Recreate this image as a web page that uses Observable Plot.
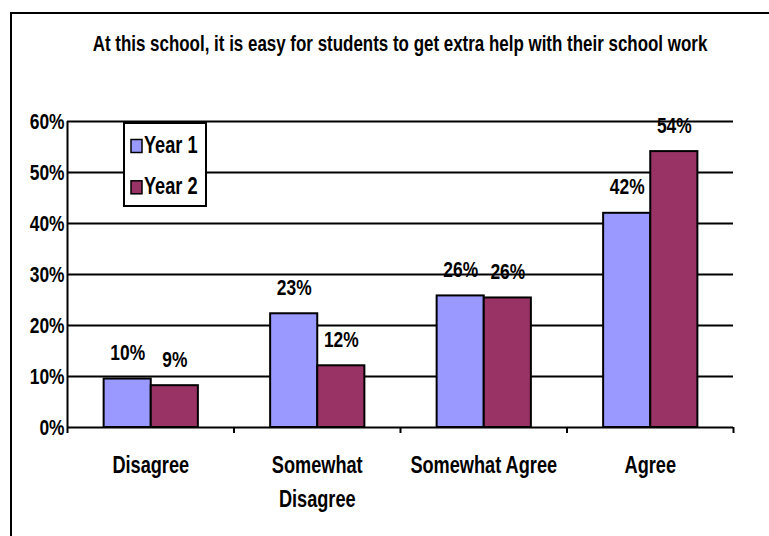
<!DOCTYPE html>
<html>
<head>
<meta charset="utf-8">
<script src="https://cdn.jsdelivr.net/npm/d3@7"></script>
<script src="https://cdn.jsdelivr.net/npm/@observablehq/plot@0.6"></script>
<style>
  body { margin: 0; background: #fff; }
  #wrap { position: relative; width: 769px; height: 536px; overflow: hidden; background: #fff;
          font-family: "Liberation Sans", Arial, sans-serif; font-weight: bold; color: #000; }
  #frame { position: absolute; left: 10px; top: 12px; right: -20px; bottom: -20px;
           border-left: 2px solid #000; border-top: 2px solid #000; }
  #title { position: absolute; left: 0; top: 33px; width: 800px; text-align: center;
           font-size: 22px; line-height: 22px; white-space: nowrap;
           transform: scaleX(0.77); transform-origin: 400px 0; }
  #chart { position: absolute; left: 0; top: 0; }
</style>
</head>
<body>
<div id="wrap">
  <div id="frame"></div>
  <div id="chart"></div>
  <div id="title">At this school, it is easy for students to get extra help with their school work</div>
</div>
<script>
const categories = ["Disagree", "Somewhat Disagree", "Somewhat Agree", "Agree"];
const categoryLabels = ["Disagree", "Somewhat\nDisagree", "Somewhat Agree", "Agree"];
const series = ["Year 1", "Year 2"];
const year1 = [9.5, 22.3, 25.8, 42.0];
const year2 = [8.2, 12.1, 25.4, 54.1];
const year1Labels = ["10%", "23%", "26%", "42%"];
const year2Labels = ["9%", "12%", "26%", "54%"];
const yTicks = [0, 10, 20, 30, 40, 50, 60];
const colors = ["#9999FF", "#993366"];

const FONT = '"Liberation Sans", Arial, sans-serif';
const SQUEEZE = 0.79;

const rows = [];
categories.forEach((c, i) => {
  rows.push({cat: c, idx: i, s: 0, series: series[0], value: year1[i], label: year1Labels[i]});
  rows.push({cat: c, idx: i, s: 1, series: series[1], value: year2[i], label: year2Labels[i]});
});
const start = 0.22, bw = 0.283;
const bx1 = d => d.idx + start + d.s * bw;
const bx2 = d => d.idx + start + (d.s + 1) * bw;
const bmid = d => d.idx + start + (d.s + 0.5) * bw;

const chart = Plot.plot({
  width: 769,
  height: 536,
  marginLeft: 67,
  marginRight: 36,
  marginTop: 121,
  marginBottom: 109,
  style: {fontFamily: FONT, fontWeight: "bold", background: "transparent", color: "#000", overflow: "visible"},
  x: {type: "linear", domain: [0, categories.length], axis: null, label: null},
  y: {domain: [0, 60], axis: null, label: null},
  color: {domain: series, range: colors},
  marks: [
    Plot.ruleY(yTicks.filter(t => t > 0), {stroke: "#000", strokeWidth: 2}),
    Plot.rect(rows, {x1: bx1, x2: bx2, y1: 0, y2: "value", fill: "series", stroke: "#000", strokeWidth: 2}),
    Plot.ruleY([0], {stroke: "#000", strokeWidth: 2}),
    Plot.ruleX([0], {y1: 0, y2: 60, stroke: "#000", strokeWidth: 2}),
    Plot.axisY({ticks: yTicks, tickFormat: d => d + "%", tickSize: 0, tickPadding: 3, fontSize: 22, fill: "#000", anchor: "left", label: null}),
    Plot.axisX({ticks: d3.range(categories.length + 1), tickFormat: () => "", tickSize: 6, stroke: "#000", strokeWidth: 2, anchor: "bottom", label: null}),
    Plot.text(categoryLabels, {x: (d, i) => i + 0.5, frameAnchor: "bottom", dy: 21, lineAnchor: "top", lineHeight: 1.48, fontSize: 23, fill: "#000"}),
    Plot.text(rows, {x: bmid, y: "value", text: "label", dy: -19, lineAnchor: "bottom", fontSize: 22, fill: "#000"})
  ]
});
document.getElementById("chart").appendChild(chart);

// Legend drawn inside the plot area, colours from the plot's color scale
const color = chart.scale("color");
const svg = d3.select(chart);
const lg = svg.append("g").attr("transform", "translate(124,123)");
lg.append("rect").attr("width", 82).attr("height", 83).attr("fill", "#fff").attr("stroke", "#000").attr("stroke-width", 2);
series.forEach((s, i) => {
  const g = lg.append("g").attr("transform", `translate(0,${i * 41.3})`);
  g.append("rect").attr("x", 7).attr("y", 16.5).attr("width", 11).attr("height", 13)
    .attr("fill", color.apply(s)).attr("stroke", "#000").attr("stroke-width", 1.5);
  g.append("text").attr("transform", "translate(20,29.7)").attr("font-size", 23).attr("font-family", FONT)
    .attr("font-weight", "bold").attr("text-anchor", "start").attr("fill", "#000").text(s);
});

// Condense all chart text horizontally (the reference uses a narrow face)
svg.selectAll("text").each(function() {
  const x = this.getAttribute("x");
  let t = this.getAttribute("transform") || "";
  if (x !== null && x !== "" && !isNaN(+x)) {
    t += ` translate(${+x},0)`;
    this.removeAttribute("x");
  }
  this.setAttribute("transform", `${t} scale(${SQUEEZE},1)`);
});
</script>
</body>
</html>
